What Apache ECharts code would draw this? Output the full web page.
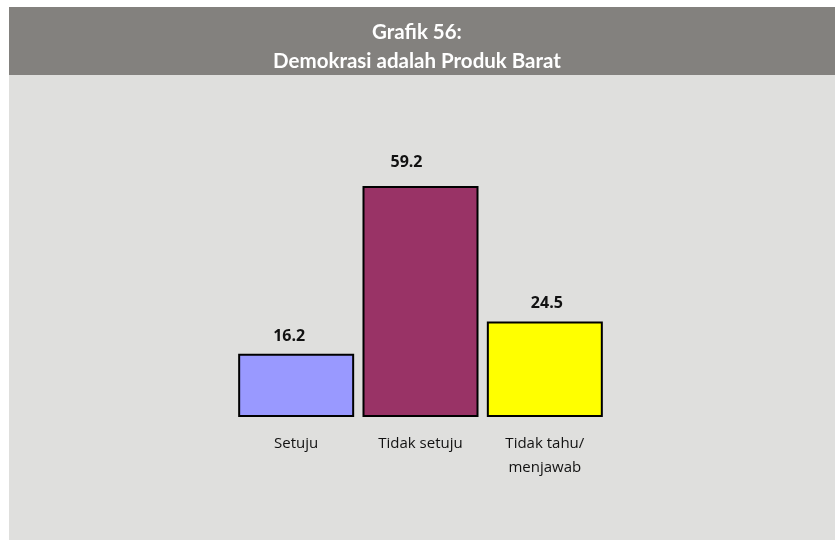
<!DOCTYPE html>
<html>
<head>
<meta charset="utf-8">
<script src="https://cdn.jsdelivr.net/npm/echarts@6/dist/echarts.min.js"></script>
<style>
  html, body { margin: 0; padding: 0; background: #ffffff; }
  #chart { width: 835px; height: 540px; }
</style>
</head>
<body>
<div id="chart"></div>
<script>
// Survey answers and their shares (%)
const categories = ['Setuju', 'Tidak setuju', 'Tidak tahu/\nmenjawab'];
const values = [16.2, 59.2, 24.5];
const barColors = ['#9999ff', '#993366', '#ffff00'];
const titleLines = ['Grafik 56:', 'Demokrasi adalah Produk Barat'];
// small nudges of the value labels [dx, dy]
const labelNudges = [[-7, 7], [-14, 0], [2, 6]];

const chart = echarts.init(document.getElementById('chart'), null, { renderer: 'canvas' });

chart.setOption({
  backgroundColor: '#ffffff',
  animation: false,
  graphic: [
    // light body panel
    { type: 'rect', z: -10, shape: { x: 9, y: 7, width: 826, height: 533 }, style: { fill: '#dfdfdd' } },
    // dark header band
    { type: 'rect', z: -9, shape: { x: 9, y: 7, width: 826, height: 68 }, style: { fill: '#83817e' } }
  ],
  title: {
    text: titleLines.join('\n'),
    left: 412,
    textAlign: 'center',
    top: 13,
    textStyle: {
      color: '#ffffff',
      fontFamily: 'Lato, sans-serif',
      fontWeight: 'bold',
      fontSize: 20.5,
      lineHeight: 29
    }
  },
  grid: { left: 234, width: 373, top: 144, height: 273, containLabel: false },
  xAxis: {
    type: 'category',
    data: categories,
    axisLine: { show: false },
    axisTick: { show: false },
    axisLabel: {
      margin: 15,
      color: '#111111',
      fontFamily: '"Open Sans", sans-serif',
      fontSize: 15,
      lineHeight: 24,
      interval: 0
    }
  },
  yAxis: {
    type: 'value',
    min: 0,
    max: 70,
    show: false,
    splitLine: { show: false }
  },
  series: [{
    type: 'bar',
    barWidth: 116,
    data: values.map((v, i) => ({
      value: v,
      itemStyle: { color: barColors[i], borderColor: '#000000', borderWidth: 2 },
      label: { offset: labelNudges[i] }
    })),
    label: {
      show: true,
      position: 'top',
      distance: 16,
      color: '#111111',
      fontFamily: '"Open Sans", sans-serif',
      fontWeight: 'bold',
      fontSize: 16,
      formatter: p => p.value.toFixed(1)
    }
  }]
});
</script>
</body>
</html>
